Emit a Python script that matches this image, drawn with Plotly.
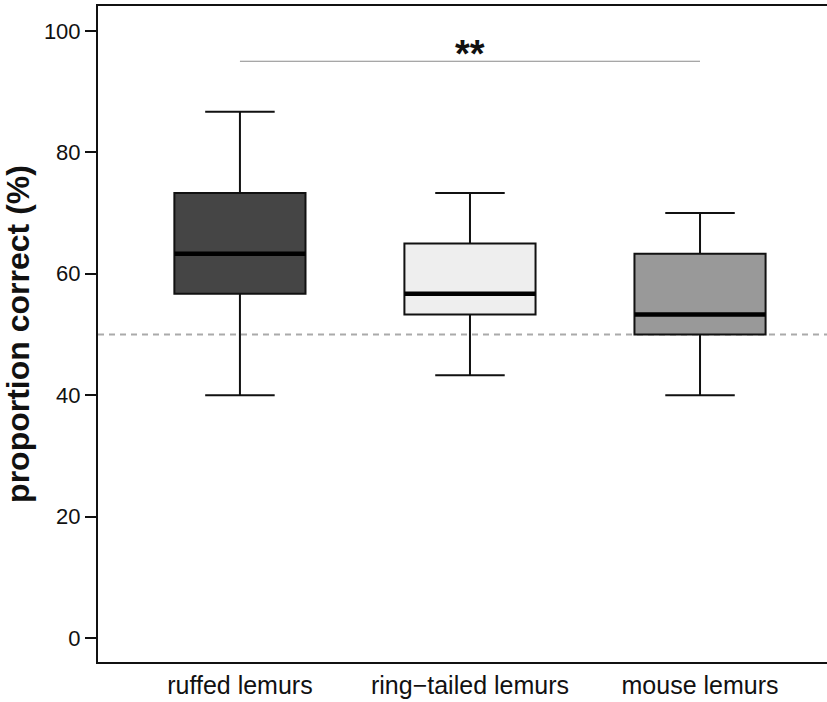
import plotly.graph_objects as go

# Summary statistics (percent correct) per species
CATEGORIES = ["ruffed lemurs", "ring\u2212tailed lemurs", "mouse lemurs"]
POSITIONS = [1, 2, 3]
LOWER = [40.0, 43.3, 40.0]
Q1 = [56.7, 53.3, 50.0]
MEDIAN = [63.3, 56.7, 53.3]
Q3 = [73.3, 65.0, 63.3]
UPPER = [86.7, 73.3, 70.0]
FILLS = ["#454545", "#eeeeee", "#999999"]

CHANCE_LEVEL = 50
SIG_Y = 95
SIG_LABEL = "**"
SIG_FROM, SIG_TO = 1, 3

Y_TICKS = [0, 20, 40, 60, 80, 100]
BOX_WIDTH = 0.57

FONT = "Liberation Sans, Arial, sans-serif"

fig = go.Figure()

for pos, lo, q1, med, q3, hi, fill in zip(POSITIONS, LOWER, Q1, MEDIAN, Q3, UPPER, FILLS):
    fig.add_trace(go.Box(
        x=[pos], q1=[q1], median=[med], q3=[q3],
        lowerfence=[lo], upperfence=[hi],
        width=BOX_WIDTH, whiskerwidth=0.53,
        fillcolor=fill, line=dict(color="#111111", width=2),
        boxpoints=False, hoverinfo="skip", showlegend=False,
    ))
    # thicker median bar
    fig.add_trace(go.Scatter(
        x=[pos - BOX_WIDTH / 2, pos + BOX_WIDTH / 2], y=[med, med],
        mode="lines", line=dict(color="black", width=4.5),
        hoverinfo="skip", showlegend=False,
    ))

# chance level
fig.add_hline(y=CHANCE_LEVEL, line=dict(color="#aaaaaa", width=2, dash="6px,5px"), layer="below")

# significance bar
fig.add_trace(go.Scatter(
    x=[SIG_FROM, SIG_TO], y=[SIG_Y, SIG_Y], mode="lines",
    line=dict(color="#8a8a8a", width=1.2), hoverinfo="skip", showlegend=False,
))
fig.add_annotation(
    x=(SIG_FROM + SIG_TO) / 2, y=SIG_Y, text="<b>" + SIG_LABEL + "</b>",
    showarrow=False, yanchor="bottom", yshift=-16,
    font=dict(family=FONT, size=38, color="#111111"),
)

fig.update_layout(
    width=827, height=702,
    margin=dict(l=98, r=0, t=6, b=40),
    paper_bgcolor="white", plot_bgcolor="white",
    font=dict(family=FONT, color="#111111"),
    xaxis=dict(
        range=[0.383, 3.552], tickvals=POSITIONS, ticktext=CATEGORIES,
        showgrid=False, zeroline=False, ticks="",
        showline=True, linecolor="#111111", linewidth=2, mirror=True,
        tickfont=dict(size=25, family=FONT, color="#111111"),
    ),
    yaxis=dict(
        range=[-3.95, 104.1], tickvals=Y_TICKS,
        showgrid=False, zeroline=False,
        ticks="outside", ticklen=11, tickwidth=1.5, tickcolor="#111111",
        showline=True, linecolor="#111111", linewidth=2,
        tickfont=dict(size=22, family=FONT, color="#111111"),
        title=dict(text="<b>proportion correct (%)</b>", standoff=18,
                   font=dict(size=32, family=FONT, color="#111111")),
    ),
)

fig.write_html("out.html")
